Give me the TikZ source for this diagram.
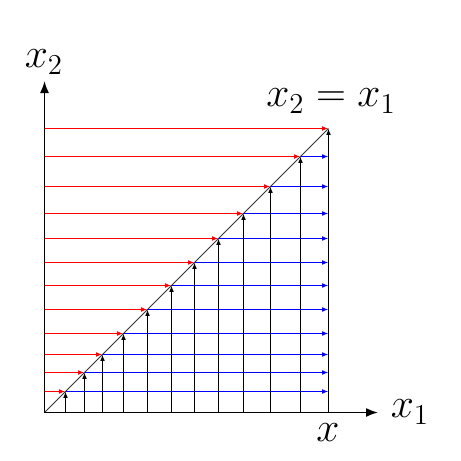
\documentclass[tikz,border=0pt]{standalone}
\usetikzlibrary{arrows.meta}
\begin{document}
\begin{tikzpicture}[x=0.5pt,y=-0.5pt,
  axisline/.style={line width=0.8pt,-{Latex[length=6pt,width=4.5pt]}},
  thinarrow/.style={line width=0.6pt,-{Latex[length=3.2pt,width=2.4pt]}},
  redarrow/.style={thinarrow,red},
  bluearrow/.style={thinarrow,blue},
  uparrow/.style={thinarrow,black},
  lbl/.style={inner sep=0pt,font=\huge}]
\useasboundingbox (0,0) rectangle (461,461);
\coordinate (O) at (44.5,412.5);
\coordinate (X) at (378,412.5);
\coordinate (Y) at (44.5,81);
\coordinate (T) at (328.5,128.5);
% diagonal
\draw[line width=0.5pt,black!80] (O) -- (T);
% levels
\foreach \i/\d in {1/21,2/40,3/58,4/79,5/103,6/127,7/150,8/174,9/199,10/226,11/256}{
  \coordinate (p\i) at (44.5+\d,412.5-\d);
  \coordinate (a\i) at (44.5+\d,412.5);
  \coordinate (l\i) at (44.5,412.5-\d);
  \coordinate (r\i) at (328.5,412.5-\d);
  \draw[uparrow] (a\i) -- (p\i);
  \draw[redarrow] (l\i) -- (p\i);
  \draw[bluearrow] (p\i) -- (r\i);
}
\coordinate (lT) at (44.5,128.5);
\coordinate (aT) at (328.5,412.5);
\draw[redarrow] (lT) -- (T);
\draw[uparrow] (aT) -- (T);
% axes
\draw[axisline] (O) -- (X);
\draw[axisline] (O) -- (Y);
\node[lbl] (x1) at (410,412) {$x_1$};
\node[lbl] (x2) at (44,62) {$x_2$};
\node[lbl] (xx) at (328,433) {$x$};
\node[lbl,font=\fontsize{21.8}{26}\selectfont] (eq) at (331,101) {$x_2 = x_1$};
\end{tikzpicture}
\end{document}
